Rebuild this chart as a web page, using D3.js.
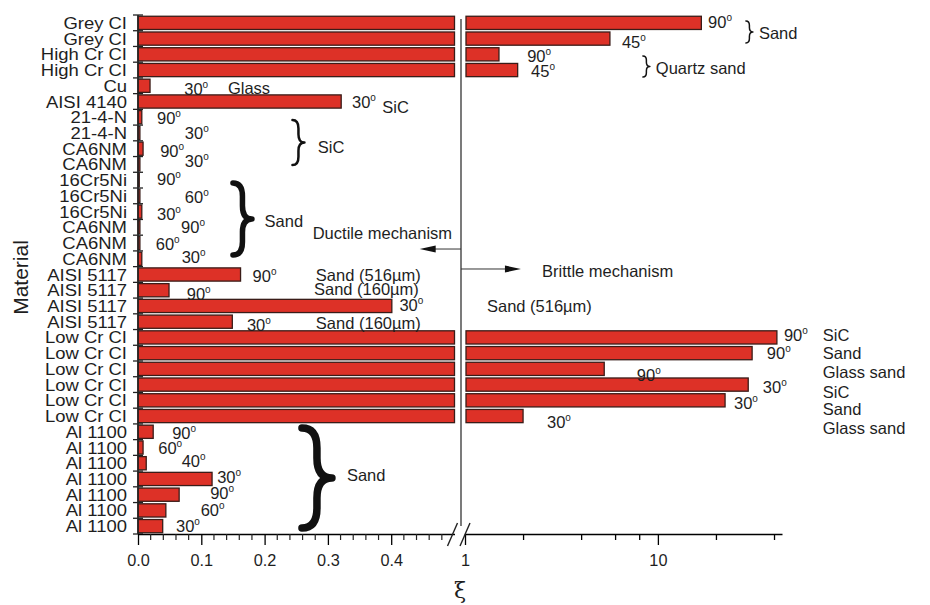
<!DOCTYPE html>
<html>
<head>
<meta charset="utf-8">
<script src="https://cdn.jsdelivr.net/npm/d3@7"></script>
<style>
  body { margin: 0; background: #fff; }
  svg text { font-family: "Liberation Sans", Arial, sans-serif; fill: #1e1e1e; }
</style>
</head>
<body>
<div id="chart"></div>
<script>
// ---- data (top to bottom) ----
const materials = [
  "Grey CI", "Grey CI", "High Cr CI", "High Cr CI", "Cu", "AISI 4140",
  "21-4-N", "21-4-N", "CA6NM", "CA6NM", "16Cr5Ni", "16Cr5Ni", "16Cr5Ni",
  "CA6NM", "CA6NM", "CA6NM", "AISI 5117", "AISI 5117", "AISI 5117", "AISI 5117",
  "Low Cr CI", "Low Cr CI", "Low Cr CI", "Low Cr CI", "Low Cr CI", "Low Cr CI",
  "Al 1100", "Al 1100", "Al 1100", "Al 1100", "Al 1100", "Al 1100", "Al 1100"
];
const xiValues = [
  16.8, 5.64, 1.50, 1.875, 0.019, 0.321,
  0.006, 0.003, 0.008, 0.003, 0.002, 0.003, 0.006,
  0.003, 0.003, 0.006, 0.162, 0.049, 0.401, 0.149,
  41.4, 30.8, 5.27, 29.4, 22.3, 2.0,
  0.024, 0.008, 0.013, 0.117, 0.065, 0.044, 0.039
];
const linearTicks = [0, 0.1, 0.2, 0.3, 0.4];
const linearTickLabels = ["0.0", "0.1", "0.2", "0.3", "0.4"];
const logTicks = [1, 2, 4, 6, 8, 10, 20, 40];
const logTickLabels = ["1", "", "", "", "", "10", "", ""];

// annotation texts: [text, xi position, row position]
const notes = [
  ["90°", 18.2, 0.45], ["45°", 6.51, 1.72], ["90°", 2.10, 2.6], ["45°", 2.20, 3.55],
  ["Sand", 33.4, 1.15], ["Quartz sand", 9.76, 3.37],
  ["30°", 0.073, 4.7], ["Glass", 0.142, 4.65],
  ["30°", 0.338, 5.55], ["SiC", 0.386, 5.85],
  ["90°", 0.030, 6.57], ["30°", 0.074, 7.5], ["SiC", 0.284, 8.4],
  ["90°", 0.035, 8.65], ["30°", 0.074, 9.3],
  ["90°", 0.030, 10.4], ["60°", 0.074, 11.6], ["30°", 0.030, 12.65],
  ["90°", 0.068, 13.5], ["60°", 0.028, 14.55], ["30°", 0.069, 15.4],
  ["Sand", 0.200, 13.1], ["Ductile mechanism", 0.276, 13.86],
  ["90°", 0.181, 16.6], ["Sand (516\u00b5m)", 0.281, 16.53],
  ["Sand (160\u00b5m)", 0.278, 17.42], ["90°", 0.077, 17.74],
  ["30°", 0.413, 18.44], ["30°", 0.172, 19.7], ["Sand (160\u00b5m)", 0.281, 19.58],
  ["Brittle mechanism", 2.51, 16.3], ["Sand (516\u00b5m)", 1.30, 18.5],
  ["90°", 45.0, 20.35], ["SiC", 71.6, 20.35], ["90°", 36.7, 21.5], ["Sand", 71.6, 21.5],
  ["90°", 7.78, 22.9], ["Glass sand", 71.6, 22.7], ["30°", 35.0, 23.65], ["SiC", 71.6, 23.97],
  ["30°", 24.8, 24.67], ["Sand", 71.6, 25.05], ["30°", 2.66, 25.88], ["Glass sand", 71.6, 26.26],
  ["90°", 0.054, 26.57], ["60°", 0.032, 27.53], ["40°", 0.069, 28.35], ["30°", 0.125, 29.37],
  ["90°", 0.114, 30.4], ["60°", 0.099, 31.47], ["30°", 0.060, 32.5], ["Sand", 0.330, 29.25]
];
// braces: [xi of left edge, top row, bottom row, width px, stroke]
const braces = [
  [28.6, 0.38, 1.78, 7, 1.5], [8.36, 2.6, 3.94, 7, 1.5],
  [0.244, 6.68, 9.54, 12, 2.5], [0.150, 10.68, 15.26, 19, 5.5],
  [0.259, 26.26, 32.62, 30, 7.5]
];

// ---- layout ----
const W = 930, H = 605;
const yTop = 15, yBottom = 534;
const svg = d3.select("#chart").append("svg").attr("width", W).attr("height", H);

const xL = d3.scaleLinear().domain([0, 0.5]).range([138, 454.5]);
const xR = d3.scaleLog().domain([1, 44]).range([465, 782]);
const X = v => v <= 0.5 ? xL(v) : xR(v);

const y = d3.scaleBand().domain(d3.range(materials.length))
  .range([yTop, yBottom]).paddingInner(0.16).paddingOuter(0.08);
const yRow = d3.scaleLinear().domain([0, materials.length]).range([yTop, yBottom]);

const fill = "#dd3127", edge = "#3a1c18";

// bars, left (linear) part
svg.append("g").selectAll("rect").data(xiValues).join("rect")
  .attr("x", xL(0))
  .attr("y", (d, i) => y(i))
  .attr("width", d => xL(Math.min(d, 0.5)) - xL(0))
  .attr("height", y.bandwidth())
  .attr("fill", fill).attr("stroke", edge).attr("stroke-width", 1.3);

// bars, right (log) part
svg.append("g").selectAll("rect").data(xiValues.map((v, i) => ({ v, i })).filter(d => d.v > 1)).join("rect")
  .attr("x", xR(1) + 1)
  .attr("y", d => y(d.i))
  .attr("width", d => xR(d.v) - xR(1) - 1)
  .attr("height", y.bandwidth())
  .attr("fill", fill).attr("stroke", edge).attr("stroke-width", 1.3);

// divider line
svg.append("line").attr("x1", xR(1) - 4).attr("x2", xR(1) - 4)
  .attr("y1", yTop + 4).attr("y2", yBottom - 8)
  .attr("stroke", "#222").attr("stroke-width", 1.2);

// y axis
const yAxis = svg.append("g");
yAxis.append("line").attr("x1", xL(0)).attr("x2", xL(0)).attr("y1", yTop).attr("y2", yBottom)
  .attr("stroke", "#222").attr("stroke-width", 1.6);
yAxis.selectAll(".tk").data(d3.range(materials.length + 1)).join("line")
  .attr("x1", xL(0) - 5).attr("x2", xL(0) + 5)
  .attr("y1", d => yRow(d)).attr("y2", d => yRow(d))
  .attr("stroke", "#222").attr("stroke-width", 1.3);
yAxis.selectAll("text").data(materials).join("text")
  .attr("transform", (d, i) => `translate(${xL(0) - 11},${y(i) + y.bandwidth() / 2}) scale(1.1,1)`)
  .attr("dy", "0.36em").attr("text-anchor", "end")
  .style("font-size", "16.8px").text(d => d);

svg.append("text").attr("transform", `translate(28,${(yTop + yBottom) / 2 + 3}) rotate(-90)`)
  .attr("text-anchor", "middle").style("font-size", "21px").text("Material");

// x axis, linear part
const axL = svg.append("g").attr("transform", `translate(0,${yBottom})`)
  .call(d3.axisBottom(xL).tickValues(linearTicks).tickFormat((d, i) => linearTickLabels[i])
    .tickSize(11).tickSizeOuter(0).tickPadding(9));
axL.selectAll(".tick line").attr("stroke-width", 1.3);
axL.select(".domain").attr("stroke-width", 1.6);
axL.selectAll(".minor").data(d3.range(1, 25).map(k => k * 0.02).filter(v => Math.round(v * 100) % 10 !== 0))
  .join("line").attr("class", "minor")
  .attr("x1", d => xL(d)).attr("x2", d => xL(d)).attr("y1", 0).attr("y2", 6)
  .attr("stroke", "#222").attr("stroke-width", 1.2);

// x axis, log part
const axR = svg.append("g").attr("transform", `translate(0,${yBottom})`)
  .call(d3.axisBottom(xR).tickValues(logTicks).tickFormat((d, i) => logTickLabels[i])
    .tickSize(11).tickSizeOuter(0).tickPadding(9));
axR.selectAll(".tick line").attr("stroke-width", 1.3)
  .attr("y2", (d, i) => logTickLabels[i] ? 11 : 6);
axR.select(".domain").attr("stroke-width", 1.6);
svg.selectAll(".tick text").style("font-size", "16.3px").attr("fill", "#1e1e1e");

// axis break marks
[xL(0.5) - 2, xR(1)].forEach(bx => {
  svg.append("line").attr("x1", bx - 5).attr("y1", yBottom + 12).attr("x2", bx + 5).attr("y2", yBottom - 11)
    .attr("stroke", "#222").attr("stroke-width", 1.4);
});

svg.append("text").attr("x", xR(1) - 5).attr("y", yBottom + 64).attr("text-anchor", "middle")
  .style("font-family", "'DejaVu Serif', 'Liberation Serif', serif").style("font-size", "22px").text("\u03be");

// arrows
const arrow = (x1, x2, yy) => {
  const dir = Math.sign(x2 - x1);
  svg.append("line").attr("x1", x1).attr("x2", x2 - dir * 12).attr("y1", yy).attr("y2", yy)
    .attr("stroke", "#333").attr("stroke-width", 1);
  svg.append("path").attr("d", `M${x2},${yy} L${x2 - dir * 16},${yy - 3.5} L${x2 - dir * 16},${yy + 3.5} Z`)
    .attr("fill", "#111");
};
arrow(xR(1) - 4, xL(0.445), yRow(14.88));
arrow(xR(1) - 4, xR(1.95), yRow(16.15));

// annotations
const ann = svg.append("g");
notes.forEach(([t, xv, r]) => {
  const txt = ann.append("text").attr("x", X(xv)).attr("y", yRow(r)).attr("dy", "0.36em")
    .style("font-size", "16.5px");
  if (t.endsWith("°")) {
    txt.append("tspan").text(t.slice(0, -1));
    txt.append("tspan").attr("dy", -7).style("font-size", "10px").text("o");
  } else {
    txt.text(t);
  }
});

// braces
const bracePath = (x, y0, y1, w) => {
  const ym = (y0 + y1) / 2, mx = x + w * 0.5, q = Math.min(w * 0.7, (y1 - y0) / 5);
  return `M${x},${y0} Q${mx},${y0} ${mx},${y0 + q} L${mx},${ym - q} Q${mx},${ym} ${x + w},${ym}` +
    ` Q${mx},${ym} ${mx},${ym + q} L${mx},${y1 - q} Q${mx},${y1} ${x},${y1}`;
};
braces.forEach(([xv, r0, r1, w, sw]) => {
  svg.append("path").attr("d", bracePath(X(xv), yRow(r0), yRow(r1), w))
    .attr("fill", "none").attr("stroke", "#111").attr("stroke-width", sw)
    .attr("stroke-linecap", "round").attr("stroke-linejoin", "round");
});
</script>
</body>
</html>
